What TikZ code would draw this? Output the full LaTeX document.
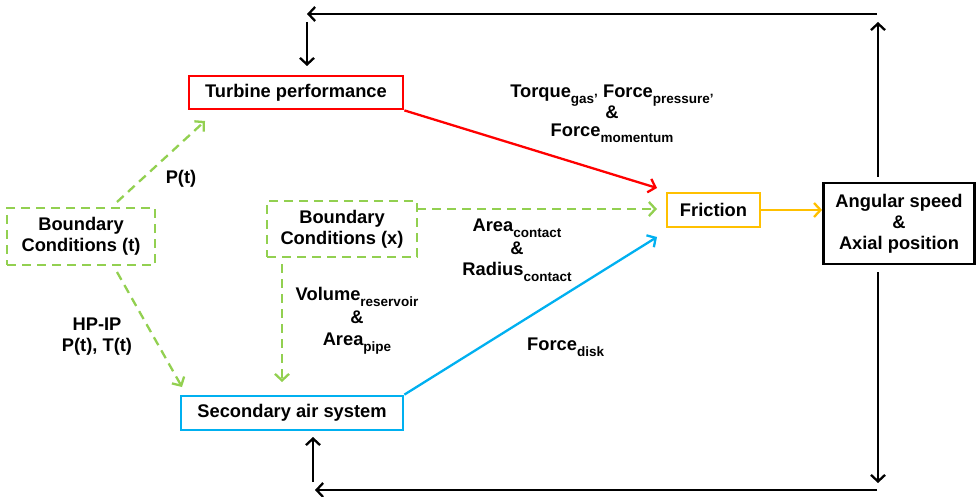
\documentclass[tikz,border=0pt]{standalone}
\usepackage{fontspec}
\setmainfont{Liberation Sans}
\usetikzlibrary{arrows.meta}
\definecolor{cred}{HTML}{FF0000}
\definecolor{cgreen}{HTML}{92D050}
\definecolor{ccyan}{HTML}{00B0F0}
\definecolor{corange}{HTML}{FFC000}
\newcommand{\lsub}[1]{\raisebox{-0.32em}{\fontsize{13.5}{13.5}\selectfont #1}}
\begin{document}
\begin{tikzpicture}[x=1pt,y=-1pt,
  font=\fontsize{18.3}{21}\selectfont\bfseries,
  box/.style={draw, line width=2.8pt, inner sep=0pt, align=center},
  dbox/.style={box, cgreen, text=black, dash pattern=on 9pt off 6pt},
  tip/.style={-{Straight Barb[length=6.5pt,width=14pt,line width=2.3pt]}},
  arr/.style={line width=2.3pt, tip},
  darr/.style={arr, cgreen, dash pattern=on 9pt off 6pt},
  lbl/.style={inner sep=0pt, align=center}]
\useasboundingbox (0,0) rectangle (977,497);

% boxes
\node[box, cred, text=black, minimum width=214pt, minimum height=33pt] (tp) at (296,92.5) {Turbine performance};
\node[dbox, minimum width=148pt, minimum height=57pt] (bct) at (81,236.5) {Boundary\\Conditions (t)};
\node[dbox, minimum width=150pt, minimum height=56pt] (bcx) at (342,229) {Boundary\\Conditions (x)};
\node[box, ccyan, text=black, minimum width=222pt, minimum height=34pt] (sas) at (292,413) {Secondary air system};
\node[box, corange, text=black, minimum width=93pt, minimum height=34pt] (fr) at (713.5,210) {Friction};
\node[box, black, minimum width=151pt, minimum height=81pt] (ang) at (899,223.5) {Angular speed\\\&\\Axial position};

% arrow end points
\coordinate (frA) at (657,188);
\coordinate (bcxOut) at (417,209);
\coordinate (frB) at (657,209);
\coordinate (frC) at (657,237);
\coordinate (tpIn) at (205,121);
\coordinate (bctTop) at (117,202);
\coordinate (bctBot) at (117,272);
\coordinate (sasInA) at (182,387);
\coordinate (bcxBot) at (282,264);
\coordinate (sasInB) at (282,382);

% colored connectors
\draw[arr, cred] (tp.south east) -- (frA);
\draw[darr] (bcxOut) -- (frB);
\draw[arr, ccyan] (sas.north east) -- (frC);
\draw[arr, corange] (fr.east) -- (fr.east -| ang.west);
\draw[darr] (bctTop) -- (tpIn);
\draw[darr] (bctBot) -- (sasInA);
\draw[darr] (bcxBot) -- (sasInB);

% feedback loops
\coordinate (tr1) at (878,177);
\coordinate (tr2) at (878,22);
\coordinate (tl1) at (877,14);
\coordinate (tl2) at (307,14);
\coordinate (td1) at (307,22);
\coordinate (td2) at (307,66);
\coordinate (br1) at (878,272);
\coordinate (br2) at (878,483);
\coordinate (bl1) at (877,490);
\coordinate (bl2) at (315,490);
\coordinate (bu1) at (313,482);
\coordinate (bu2) at (313,437);
\draw[arr] (tr1) -- (tr2);
\draw[arr] (tl1) -- (tl2);
\draw[arr] (td1) -- (td2);
\draw[arr] (br1) -- (br2);
\draw[arr] (bl1) -- (bl2);
\draw[arr] (bu1) -- (bu2);

% labels
\node[lbl] (lp) at (181,179) {P(t)};
\node[lbl] (lhp) at (97,337) {HP-IP\\P(t), T(t)};
\node[lbl] (ltq) at (612,114) {Torque\lsub{gas’} Force\lsub{pressure’}\\[-1pt]\&\\[-3pt]Force\lsub{momentum}};
\node[lbl] (lac) at (517,250) {Area\lsub{contact}\\[2pt]\&\\[0pt]Radius\lsub{contact}};
\node[lbl] (lvr) at (357,321) {Volume\lsub{reservoir}\\[2pt]\&\\[1pt]Area\lsub{pipe}};
\node[lbl, anchor=west] (lfd) at (527,347) {Force\lsub{disk}};
\end{tikzpicture}
\end{document}
